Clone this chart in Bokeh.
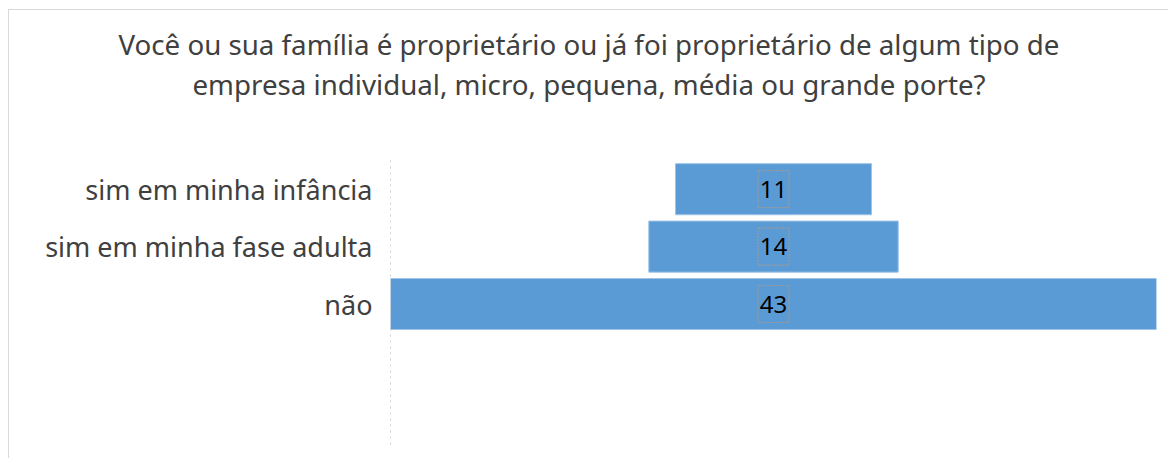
from bokeh.plotting import figure
from bokeh.models import Range1d, FixedTicker, ColumnDataSource, Title
from bokeh.embed import file_html
from bokeh.resources import INLINE
from bokeh.core.properties import value

categories = ["sim em minha infância", "sim em minha fase adulta", "não"]
counts = [11, 14, 43]
title_lines = ["Você ou sua família é proprietário ou já foi proprietário de algum tipo de",
               "empresa individual, micro, pequena, média ou grande porte?"]

FONT = "Noto Sans"
ypos = list(range(len(categories)))
maxv = max(counts)
src = ColumnDataSource(dict(
    y=ypos,
    left=[-c / 2 for c in counts],
    right=[c / 2 for c in counts],
    x=[0] * len(counts),
    lab=[str(c) for c in counts],
))

p = figure(width=1160, height=449, output_backend="svg", toolbar_location=None,
           x_range=Range1d(-maxv / 2, maxv / 2), y_range=Range1d(4.5, -0.5),
           min_border_left=381, min_border_right=13, min_border_top=150, min_border_bottom=12)
p.styles = {"margin-left": "8px", "margin-top": "9px",
            "border-left": "1px solid #d9d9d9", "border-top": "1px solid #d9d9d9"}
p.outline_line_color = None
p.grid.visible = False
p.xaxis.visible = False

p.hbar(y="y", left="left", right="right", height=0.89, source=src,
       fill_color="#5B9BD5", line_color="#9DC3E6", line_width=1)
p.rect(x="x", y="y", width=31, height=37, width_units="screen", height_units="screen",
       source=src, fill_alpha=0, line_color="#9a9a9a", line_dash="2 1", line_width=1.2)
p.text(x="x", y="y", text="lab", source=src, text_align="center", text_baseline="middle",
       text_font=value(FONT), text_font_size="24px", text_color="#000000")

ax = p.yaxis[0]
ax.ticker = FixedTicker(ticks=ypos)
ax.major_label_overrides = {i: c for i, c in enumerate(categories)}
ax.major_tick_line_color = None
ax.minor_tick_line_color = None
ax.major_tick_out = 0
ax.major_tick_in = 0
ax.axis_line_color = "#d0d0d0"
ax.axis_line_dash = "dotted"
ax.major_label_standoff = 18
ax.major_label_text_font = FONT
ax.major_label_text_font_size = "27px"
ax.major_label_text_color = "#404040"

# spacer between the plot frame and the title block
p.add_layout(Title(text=" ", text_font_size="10px", standoff=45), "above")
offsets = [-272, -198]
for i in reversed(range(len(title_lines))):
    p.add_layout(Title(text=title_lines[i], align="left", offset=offsets[i],
                       text_font=FONT, text_font_size="27.7px", text_font_style="normal",
                       text_color="#404040", standoff=0), "above")

open("out.html", "w").write(file_html(p, INLINE))
